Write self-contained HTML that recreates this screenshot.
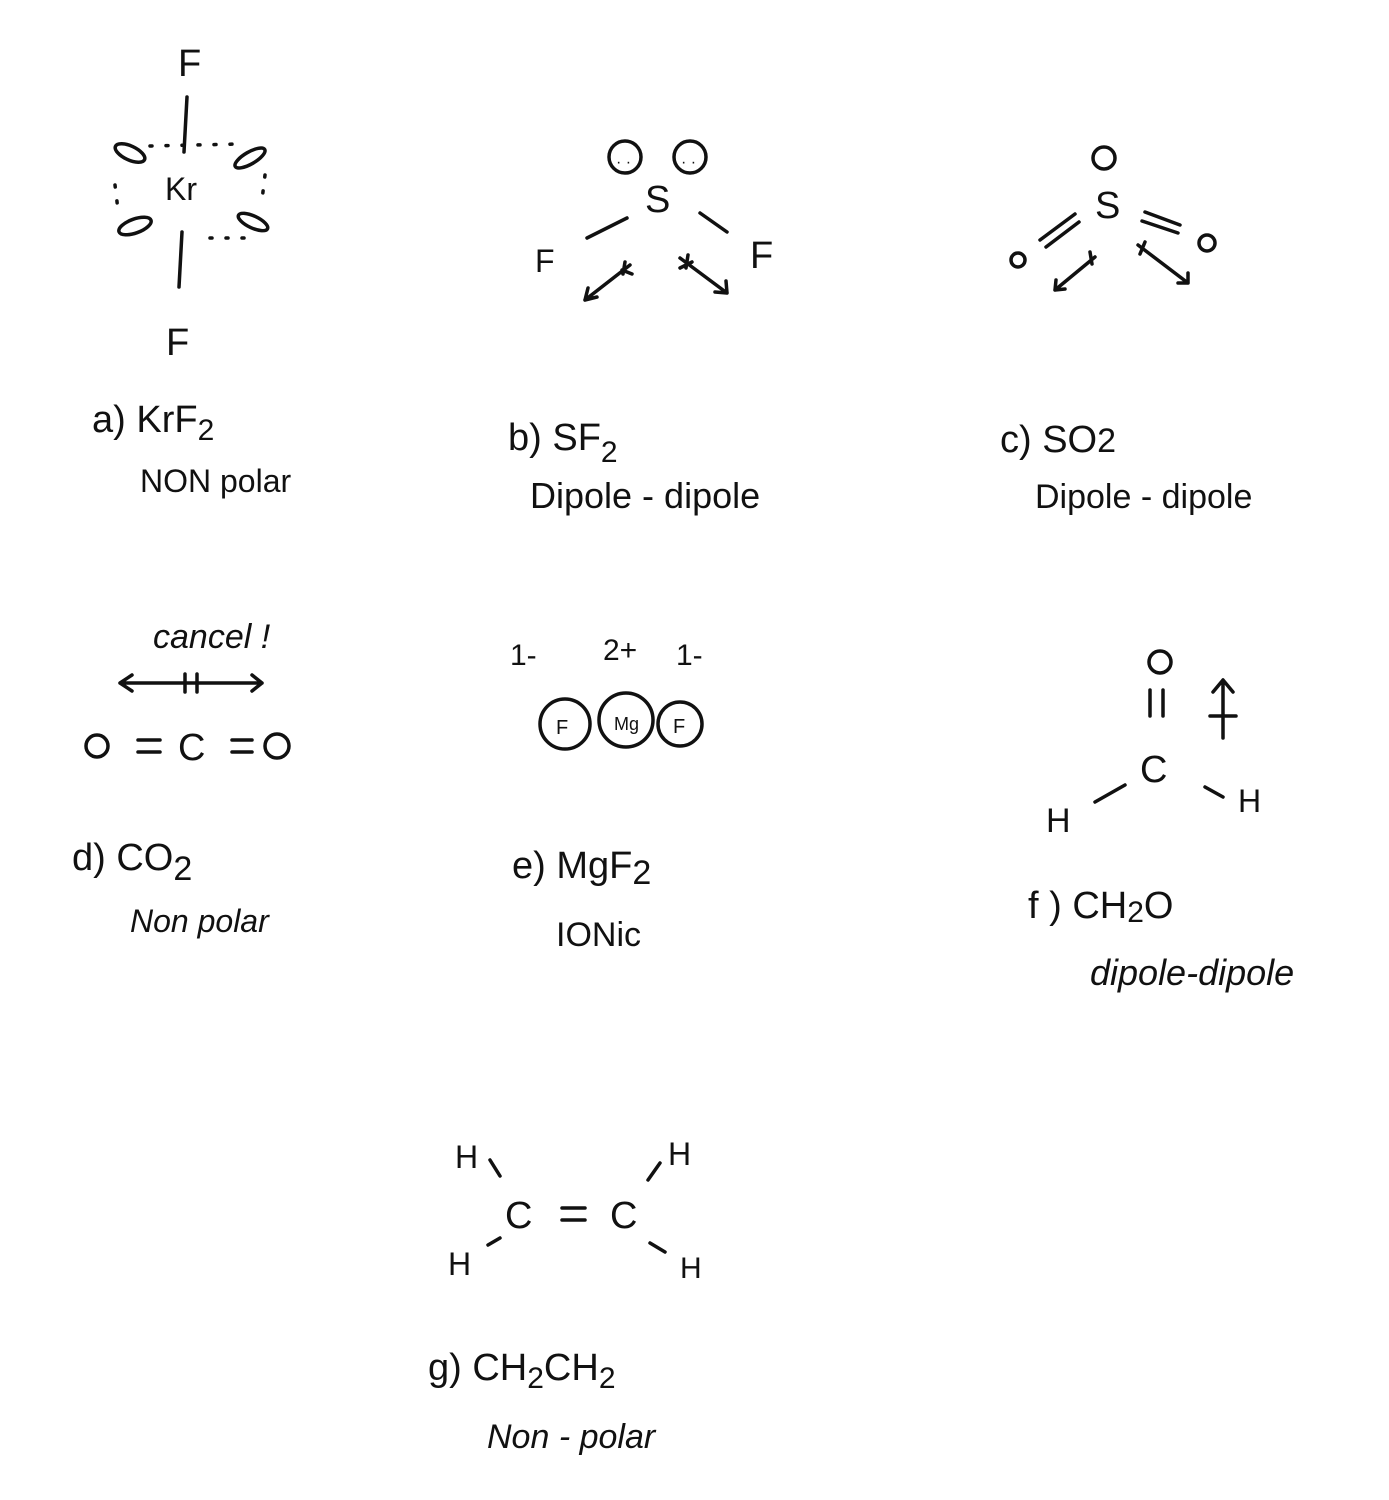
<!DOCTYPE html>
<html><head><meta charset="utf-8"><style>
html,body{margin:0;padding:0;background:#fff;}
svg{display:block}
text{font-family:"Liberation Sans",sans-serif;fill:#111;}
</style></head><body>
<svg width="1389" height="1500" viewBox="0 0 1389 1500" xmlns="http://www.w3.org/2000/svg">
<g stroke="#111" stroke-width="3.5" fill="none" stroke-linecap="round">
<line x1="187" y1="97" x2="184" y2="152"/>
<line x1="182" y1="232" x2="179" y2="287"/>
<ellipse cx="130" cy="153" rx="16" ry="7" transform="rotate(25 130 153)"/>
<ellipse cx="250" cy="158" rx="17" ry="6" transform="rotate(-30 250 158)"/>
<ellipse cx="135" cy="226" rx="17" ry="7" transform="rotate(-20 135 226)"/>
<ellipse cx="253" cy="222" rx="16" ry="6" transform="rotate(25 253 222)"/>
<g stroke-dasharray="2 14"><line x1="150" y1="146" x2="240" y2="144"/><line x1="115" y1="185" x2="118" y2="210"/><line x1="210" y1="238" x2="245" y2="238"/><line x1="265" y1="175" x2="262" y2="200"/></g>
<circle cx="625" cy="157" r="16"/><circle cx="690" cy="157" r="16"/>
<line x1="587" y1="238" x2="627" y2="218"/><line x1="700" y1="213" x2="727" y2="232"/>
<path d="M630 265 L585 300 M585 300 l3 -12 M585 300 l12 -3 M622 270 l10 4 M625 262 l-2 12"/>
<path d="M680 258 L727 293 M727 293 l-12 -1 M727 293 l-1 -12 M688 255 l-2 13 M680 268 l12 -6"/>
<circle cx="1104" cy="158" r="11"/>
<line x1="1040" y1="240" x2="1075" y2="214"/><line x1="1046" y1="247" x2="1079" y2="222"/>
<line x1="1145" y1="212" x2="1180" y2="225"/><line x1="1142" y1="221" x2="1178" y2="233"/>
<circle cx="1018" cy="260" r="7"/><circle cx="1207" cy="243" r="8"/>
<path d="M1095 257 L1055 290 M1055 290 l1 -10 M1055 290 l10 -1 M1090 252 l2 12"/>
<path d="M1138 245 L1188 283 M1188 283 l-10 0 M1188 283 l0 -10 M1145 242 l-5 12"/>
<path d="M120 683 L262 683 M120 683 l12 -8 M120 683 l12 8 M262 683 l-10 -8 M262 683 l-10 8 M185 674 v18 M197 674 v18"/>
<circle cx="97" cy="746" r="11"/>
<line x1="138" y1="740" x2="160" y2="740"/><line x1="138" y1="752" x2="160" y2="752"/>
<line x1="232" y1="740" x2="252" y2="740"/><line x1="232" y1="752" x2="252" y2="752"/>
<circle cx="277" cy="746" r="12"/>
<circle cx="565" cy="724" r="25"/><circle cx="626" cy="720" r="27"/><circle cx="680" cy="724" r="22"/>
<circle cx="1160" cy="662" r="11"/>
<line x1="1150" y1="690" x2="1150" y2="716"/><line x1="1163" y1="690" x2="1163" y2="716"/>
<path d="M1223 680 V738 M1223 680 l-10 12 M1223 680 l10 12 M1210 716 h26"/>
<line x1="1095" y1="802" x2="1125" y2="785"/><line x1="1205" y1="787" x2="1223" y2="797"/>
<line x1="490" y1="1160" x2="500" y2="1176"/><line x1="648" y1="1180" x2="660" y2="1163"/>
<line x1="488" y1="1245" x2="500" y2="1238"/><line x1="650" y1="1243" x2="665" y2="1252"/>
<line x1="562" y1="1208" x2="585" y2="1208"/><line x1="562" y1="1220" x2="585" y2="1220"/>
</g>
<g font-size="38">
<text x="178" y="76">F</text><text x="166" y="355">F</text>
<text x="165" y="200" font-size="32">Kr</text>
<text x="92" y="432">a)  KrF<tspan font-size="30" dy="8">2</tspan></text>
<text x="140" y="492" font-size="32">NON polar</text>
<text x="645" y="212">S</text>
<text x="535" y="272" font-size="32">F</text><text x="750" y="268">F</text>
<text x="616" y="167" font-size="16">· ·</text><text x="681" y="167" font-size="16">· ·</text>
<text x="1095" y="218">S</text>
<text x="508" y="450">b)  SF<tspan font-size="30" dy="12">2</tspan></text>
<text x="530" y="508" font-size="36">Dipole - dipole</text>
<text x="1000" y="452">c)  SO<tspan font-size="34">2</tspan></text>
<text x="1035" y="508" font-size="34">Dipole - dipole</text>
<text x="153" y="648" font-size="34" font-style="italic">cancel !</text>
<text x="178" y="760">C</text>
<text x="72" y="870">d)  CO<tspan font-size="34" dy="10">2</tspan></text>
<text x="130" y="932" font-size="32" font-style="italic">Non polar</text>
<text x="510" y="665" font-size="30">1-</text><text x="603" y="660" font-size="30">2+</text><text x="676" y="665" font-size="30">1-</text>
<text x="556" y="734" font-size="20">F</text><text x="614" y="730" font-size="18">Mg</text><text x="673" y="733" font-size="20">F</text>
<text x="512" y="878">e)  MgF<tspan font-size="34" dy="6">2</tspan></text>
<text x="556" y="946" font-size="34">IONic</text>
<text x="1140" y="782">C</text>
<text x="1046" y="832" font-size="34">H</text><text x="1238" y="812" font-size="32">H</text>
<text x="1028" y="918">f )  CH<tspan font-size="30" dy="4">2</tspan><tspan dy="-4">O</tspan></text>
<text x="1090" y="985" font-size="36" font-style="italic">dipole-dipole</text>
<text x="455" y="1168" font-size="32">H</text><text x="668" y="1165" font-size="32">H</text>
<text x="505" y="1228">C</text><text x="610" y="1228">C</text>
<text x="448" y="1275" font-size="32">H</text><text x="680" y="1278" font-size="30">H</text>
<text x="428" y="1380">g)   CH<tspan font-size="30" dy="8">2</tspan><tspan dy="-8">CH</tspan><tspan font-size="30" dy="8">2</tspan></text>
<text x="487" y="1448" font-size="34" font-style="italic">Non - polar</text>
</g>
</svg>
</body></html>
